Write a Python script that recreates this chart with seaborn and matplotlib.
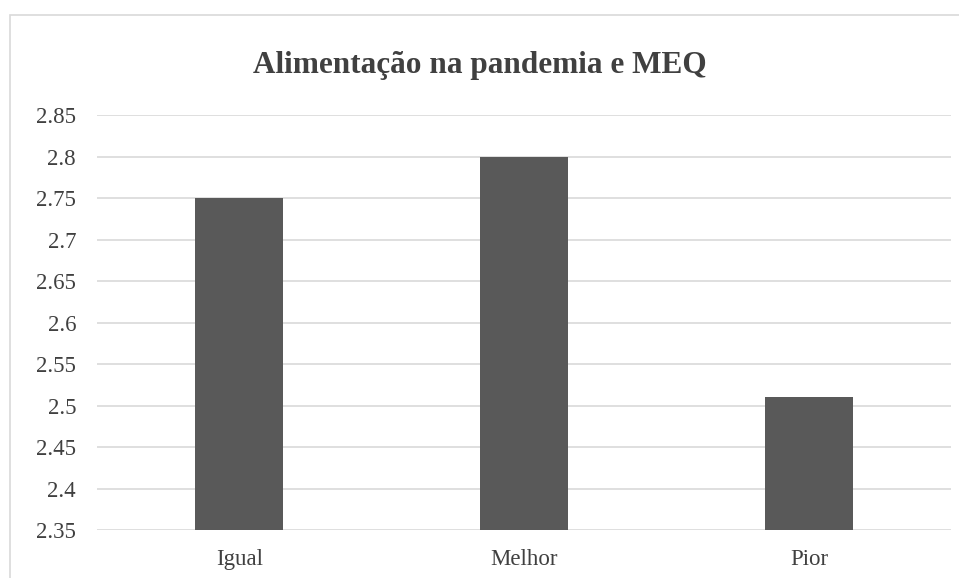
import seaborn as sns
import matplotlib.pyplot as plt
import matplotlib.patches as mpatches
from matplotlib.ticker import FuncFormatter
import pandas as pd

# values
categories = ['Igual', 'Melhor', 'Pior']
meq_means = [2.75, 2.80, 2.51]
y_ticks = [2.35, 2.4, 2.45, 2.5, 2.55, 2.6, 2.65, 2.7, 2.75, 2.8, 2.85]

title = 'Alimentação na pandemia e MEQ'

df = pd.DataFrame({'cat': categories, 'val': meq_means})

sns.set_theme(style='white')
plt.rcParams['font.family'] = ['Liberation Serif', 'DejaVu Serif']

fig = plt.figure(figsize=(9.59, 5.78), dpi=100)
ax = fig.add_axes([0.101, 0.083, 0.891, 0.718])

ax.set_axisbelow(True)
for t in y_ticks:
	ax.axhline(t, color='#d9d9d9', lw=1.2, zorder=0)

sns.barplot(data=df, x='cat', y='val', color='#595959', width=0.31,
	saturation=1, linewidth=0, ax=ax, zorder=2)

ax.set_ylim(2.35, 2.85)
ax.set_yticks(y_ticks)
ax.yaxis.set_major_formatter(FuncFormatter(lambda v, p: '%g' % round(v, 2)))
ax.tick_params(axis='y', labelsize=16.5, colors='#404040', length=0, pad=15)
ax.tick_params(axis='x', labelsize=16.5, colors='#404040', length=0, pad=14)
ax.set_xlabel('')
ax.set_ylabel('')
for s in ax.spines.values():
	s.set_visible(False)

fig.text(0.5, 0.887, title, ha='center', va='center', fontsize=22.5,
	fontweight='bold', color='#404040')

# outer chart border (cut by the image edges)
border = mpatches.Rectangle((10 / 959, -0.05), 1.2, 1 - 15 / 578 + 0.05,
	transform=fig.transFigure, fill=False, edgecolor='#d9d9d9', lw=1.2)
fig.patches.append(border)

fig.savefig('out.png', dpi=100)
